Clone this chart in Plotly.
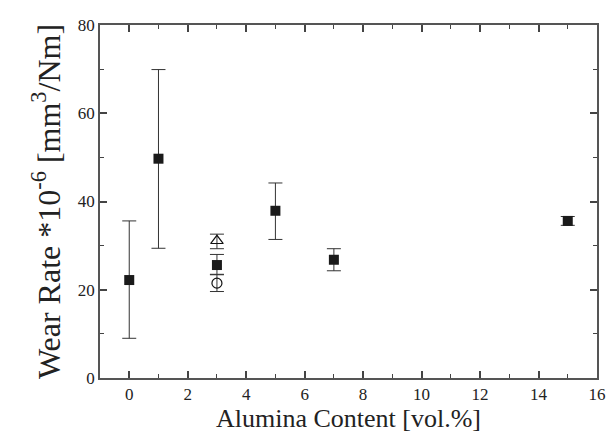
import plotly.graph_objects as go

# Data
sq_x = [0, 1, 3, 5, 7, 15]
sq_y = [22.2, 49.7, 25.6, 37.9, 26.8, 35.6]
sq_up = [35.6, 69.9, 28.0, 44.2, 29.3, 36.6]
sq_lo = [9.0, 29.4, 23.5, 31.4, 24.3, 34.6]

tri_x = [3]
tri_y = [31.1]
tri_up = [32.6]
tri_lo = [29.3]

cir_x = [3]
cir_y = [21.5]
cir_up = [23.4]
cir_lo = [19.6]

x_ticks = [0, 2, 4, 6, 8, 10, 12, 14, 16]
y_ticks = [0, 20, 40, 60, 80]

font = "Liberation Serif"
ecol = "#333333"
tcol = "#444444"


def err(y, up, lo):
    return dict(type="data", symmetric=False,
                array=[u - v for u, v in zip(up, y)],
                arrayminus=[v - l for v, l in zip(y, lo)],
                color=ecol, thickness=1, width=7)


fig = go.Figure()
fig.add_trace(go.Scatter(x=tri_x, y=tri_y, mode="markers",
                         marker=dict(symbol="triangle-up-open", size=11,
                                     color="#111111", line=dict(width=1.2)),
                         error_y=err(tri_y, tri_up, tri_lo), showlegend=False))
fig.add_trace(go.Scatter(x=cir_x, y=cir_y, mode="markers",
                         marker=dict(symbol="circle-open", size=10,
                                     color="#111111", line=dict(width=1.2)),
                         error_y=err(cir_y, cir_up, cir_lo), showlegend=False))
fig.add_trace(go.Scatter(x=sq_x, y=sq_y, mode="markers",
                         marker=dict(symbol="square", size=10, color="#1a1a1a"),
                         error_y=err(sq_y, sq_up, sq_lo), showlegend=False))
# invisible trace to activate mirror axes (top / right)
fig.add_trace(go.Scatter(x=sq_x, y=sq_y, xaxis="x2", yaxis="y2", mode="markers",
                         marker=dict(opacity=0), showlegend=False,
                         hoverinfo="skip"))

axis_common = dict(showline=True, linecolor="#555555", linewidth=1.5,
                   ticks="inside", ticklen=7, tickwidth=1.5,
                   tickcolor=tcol, showgrid=False, zeroline=False,
                   tickfont=dict(family=font, size=17, color="#222222"))
xminor = dict(dtick=1, tick0=0, ticks="inside", ticklen=4,
              tickwidth=1.2, tickcolor=tcol, showgrid=False)
yminor = dict(dtick=10, tick0=0, ticks="inside", ticklen=4,
              tickwidth=1.2, tickcolor=tcol, showgrid=False)

fig.update_layout(
    width=616, height=435,
    margin=dict(l=100, r=10, t=25, b=57),
    plot_bgcolor="white", paper_bgcolor="white",
    xaxis=dict(range=[-1, 16], tickvals=x_ticks, minor=xminor,
               title=dict(text="Alumina Content [vol.%]",
                          font=dict(family=font, size=26, color="#222222"),
                          standoff=2),
               **axis_common),
    yaxis=dict(range=[0, 80], tickvals=y_ticks, minor=yminor,
               title=dict(text="Wear Rate *10<sup>-6</sup> [mm<sup>3</sup>/Nm]",
                          font=dict(family=font, size=32, color="#222222"),
                          standoff=8),
               **axis_common),
    xaxis2=dict(range=[-1, 16], tickvals=x_ticks, minor=xminor,
                overlaying="x", side="top", showticklabels=False,
                **axis_common),
    yaxis2=dict(range=[0, 80], tickvals=y_ticks, minor=yminor,
                overlaying="y", side="right", showticklabels=False,
                **axis_common),
)

fig.write_html("out.html")
